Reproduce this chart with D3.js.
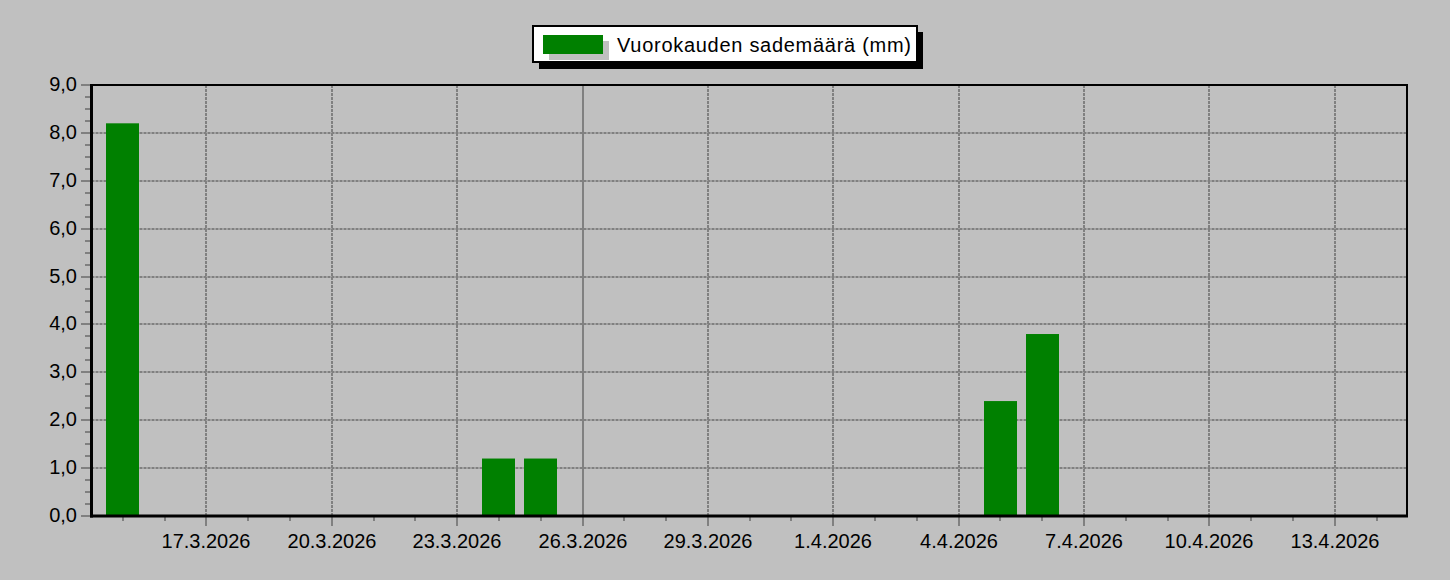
<!DOCTYPE html>
<html>
<head>
<meta charset="utf-8">
<script src="https://cdn.jsdelivr.net/npm/d3@7"></script>
<style>
  body { margin: 0; background: #c0c0c0; }
  svg { display: block; font-family: "Liberation Sans", Arial, sans-serif; }
</style>
</head>
<body>
<svg width="1450" height="580"></svg>
<script>
// daily precipitation, 15.3.2026 - 13.4.2026
var days = ["2026-03-15","2026-03-16","2026-03-17","2026-03-18","2026-03-19","2026-03-20",
            "2026-03-21","2026-03-22","2026-03-23","2026-03-24","2026-03-25","2026-03-26",
            "2026-03-27","2026-03-28","2026-03-29","2026-03-30","2026-03-31","2026-04-01",
            "2026-04-02","2026-04-03","2026-04-04","2026-04-05","2026-04-06","2026-04-07",
            "2026-04-08","2026-04-09","2026-04-10","2026-04-11","2026-04-12","2026-04-13"];
var rain = [8.2, 0, 0, 0, 0, 0,
            0, 0, 0, 1.2, 1.2, 0,
            0, 0, 0, 0, 0, 0,
            0, 0, 0, 2.4, 3.8, 0,
            0, 0, 0, 0, 0, 0];
var yTicks = [0, 1, 2, 3, 4, 5, 6, 7, 8, 9];
var xMajorDays = ["2026-03-17","2026-03-20","2026-03-23","2026-03-26","2026-03-29",
                  "2026-04-01","2026-04-04","2026-04-07","2026-04-10","2026-04-13"];
var solidGridDay = "2026-03-26";
var seriesName = "Vuorokauden sademäärä (mm)";

var svg = d3.select("svg"),
    mLeft = 91.5, mRight = 1407, mTop = 85, mBottom = 516;

var fi = d3.formatLocale({decimal: ",", thousands: " ", grouping: [3], currency: ["", " €"]});
var fmt = fi.format(".1f");
var parse = d3.utcParse("%Y-%m-%d");
var dateLabel = function(d) { return d.getUTCDate() + "." + (d.getUTCMonth() + 1) + "." + d.getUTCFullYear(); };

var data = days.map(function(d, i) { return {date: parse(d), value: rain[i]}; });

var x = d3.scaleUtc()
    .domain([new Date(Date.UTC(2026, 2, 14, 6, 0)), new Date(Date.UTC(2026, 3, 14, 17, 30))])
    .range([mLeft, mRight]);
var y = d3.scaleLinear().domain([0, 9]).range([mBottom, mTop]);

var barW = 33;
var grey = "#808080";

// horizontal grid
svg.append("g").selectAll("line")
    .data(yTicks.filter(function(v) { return v > 0 && v < 9; }))
    .enter().append("line")
    .attr("x1", mLeft).attr("x2", mRight)
    .attr("y1", function(d) { return Math.round(y(d)); }).attr("y2", function(d) { return Math.round(y(d)); })
    .attr("stroke", grey).attr("stroke-width", 2).attr("stroke-dasharray", "3,1");

// vertical grid
svg.append("g").selectAll("line")
    .data(xMajorDays)
    .enter().append("line")
    .attr("x1", function(d) { return Math.round(x(parse(d))); })
    .attr("x2", function(d) { return Math.round(x(parse(d))); })
    .attr("y1", mTop).attr("y2", mBottom)
    .attr("stroke", grey).attr("stroke-width", 2)
    .attr("stroke-dasharray", function(d) { return d === solidGridDay ? null : "3,1"; });

// bars
svg.append("g").selectAll("rect")
    .data(data.filter(function(d) { return d.value > 0; }))
    .enter().append("rect")
    .attr("x", function(d) { return Math.round(x(d.date) - barW / 2); })
    .attr("width", barW)
    .attr("y", function(d) { return y(d.value); })
    .attr("height", function(d) { return mBottom - y(d.value); })
    .attr("fill", "#008000");

// y axis: major and minor ticks
var yMinor = d3.range(0, 9.01, 0.25);
var yMin = svg.append("g")
    .attr("transform", "translate(" + (mLeft - 1.5) + ",0)")
    .call(d3.axisLeft(y).tickValues(yMinor).tickSize(5).tickFormat(""));
var yMaj = svg.append("g")
    .attr("transform", "translate(" + (mLeft - 1.5) + ",0)")
    .call(d3.axisLeft(y).tickValues(yTicks).tickSize(9).tickPadding(4).tickFormat(fmt));
[yMin, yMaj].forEach(function(g) {
    g.select(".domain").remove();
    g.selectAll(".tick").attr("transform", function(d) { return "translate(0," + Math.round(y(d)) + ")"; });
    g.selectAll("line").attr("stroke", grey).attr("stroke-width", 2);
});
yMaj.selectAll("text").attr("font-size", 20).attr("fill", "#000")
    .attr("font-family", "Liberation Sans, Arial, sans-serif");

// x axis: daily minor ticks and 3-day major ticks
var xMinor = d3.utcDay.range(parse("2026-03-15"), parse("2026-04-15"));
var xMin = svg.append("g")
    .attr("transform", "translate(0," + (mBottom + 1) + ")")
    .call(d3.axisBottom(x).tickValues(xMinor).tickSize(4).tickFormat(""));
var xMaj = svg.append("g")
    .attr("transform", "translate(0," + (mBottom + 1) + ")")
    .call(d3.axisBottom(x).tickValues(xMajorDays.map(parse)).tickSize(9).tickPadding(8).tickFormat(dateLabel));
[xMin, xMaj].forEach(function(g) {
    g.select(".domain").remove();
    g.selectAll(".tick").attr("transform", function(d) { return "translate(" + Math.round(x(d)) + ",0)"; });
    g.selectAll("line").attr("stroke", grey).attr("stroke-width", 2);
});
xMaj.selectAll("text").attr("font-size", 20).attr("fill", "#000")
    .attr("font-family", "Liberation Sans, Arial, sans-serif");

// frame
svg.append("line").attr("x1", mLeft).attr("x2", mRight).attr("y1", mTop).attr("y2", mTop)
    .attr("stroke", "#000").attr("stroke-width", 2);
svg.append("line").attr("x1", mRight).attr("x2", mRight).attr("y1", mTop - 1).attr("y2", mBottom)
    .attr("stroke", "#000").attr("stroke-width", 2);
svg.append("line").attr("x1", mLeft).attr("x2", mLeft).attr("y1", mTop - 1).attr("y2", mBottom + 1.5)
    .attr("stroke", "#000").attr("stroke-width", 3);
svg.append("line").attr("x1", mLeft - 1.5).attr("x2", mRight + 1).attr("y1", mBottom).attr("y2", mBottom)
    .attr("stroke", "#000").attr("stroke-width", 3);

// legend
var legend = svg.append("g").attr("class", "legend");
legend.append("rect").attr("x", 539).attr("y", 32).attr("width", 384).attr("height", 37).attr("fill", "#000");
legend.append("rect").attr("x", 533).attr("y", 26).attr("width", 384).attr("height", 36)
    .attr("fill", "#fff").attr("stroke", "#000").attr("stroke-width", 2);
legend.append("rect").attr("x", 549).attr("y", 41).attr("width", 60).attr("height", 19).attr("fill", "#c0c0c0");
legend.append("rect").attr("x", 543).attr("y", 35).attr("width", 60).attr("height", 19).attr("fill", "#008000");
legend.append("text").attr("x", 617).attr("y", 52)
    .attr("font-size", 20).attr("textLength", 294).attr("lengthAdjust", "spacing")
    .text(seriesName);
</script>
</body>
</html>
